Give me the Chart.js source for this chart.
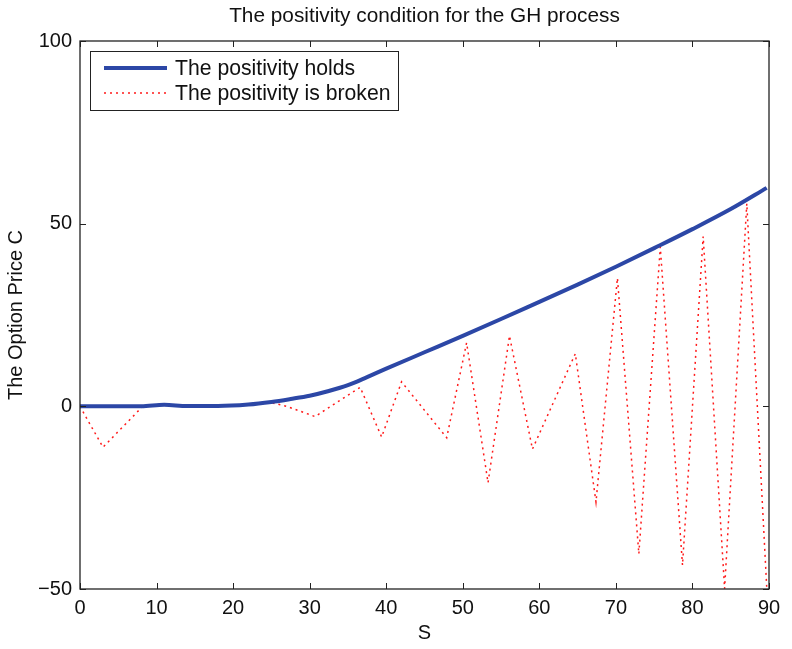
<!DOCTYPE html>
<html>
<head>
<meta charset="utf-8">
<script src="https://cdn.jsdelivr.net/npm/chart.js@4"></script>
<style>
  html, body { margin: 0; padding: 0; background: #fff; }
  #wrap { width: 792px; height: 649px; }
</style>
</head>
<body>
<div id="wrap"><canvas id="myChart" width="792" height="649"></canvas></div>
<script>
// values
const title = 'The positivity condition for the GH process'
const xLabel = 'S'
const yLabel = 'The Option Price C'
const seriesNames = ['The positivity holds', 'The positivity is broken']

const sHolds = [0, 5, 8, 11, 14, 18, 22, 25, 27.5, 30, 32.5, 35, 37.5, 40, 45, 50, 55, 60, 65, 70, 75, 80, 85, 89.7]
const cHolds = [0, 0, 0, 0.4, 0.1, 0.1, 0.5, 1.2, 2, 2.9, 4.2, 5.8, 8.0, 10.3, 14.8, 19.3, 23.9, 28.6, 33.3, 38.2, 43.3, 48.5, 54, 59.8]

const sBroken = [0, 3, 8.2, 11, 15, 20, 25, 27, 30.7, 36.6, 39.4, 42.0, 47.9, 50.5, 53.3, 56.1, 59.1, 64.7, 67.4, 70.2, 73.0, 75.8, 78.7, 81.4, 84.2, 87.1, 89.7]
const cBroken = [0, -11.2, 0, 0.4, 0, 0.2, 1, 0, -2.8, 5.2, -8.4, 6.7, -8.6, 17.4, -20.9, 19.3, -11.7, 14.4, -26.2, 35.1, -40.4, 43.6, -43.5, 46.5, -49.9, 55.5, -49.4]

const xTicks = [0, 10, 20, 30, 40, 50, 60, 70, 80, 90]
const yTicks = [-50, 0, 50, 100]

const blue = '#2c47a6'
const red = '#ff1a1a'
const font = '"Liberation Sans", Arial, sans-serif'

function toPoints(xs, ys) {
  return xs.map((x, i) => ({ x: x, y: ys[i] }))
}

// box, inward ticks on all sides, title and legend, MATLAB style
const matlabFrame = {
  id: 'matlabFrame',
  afterDatasetsDraw(chart) {
    const ctx = chart.ctx
    const a = chart.chartArea
    const xs = chart.scales.x
    const ys = chart.scales.y
    ctx.save()
    ctx.strokeStyle = '#222'
    ctx.lineWidth = 1
    ctx.beginPath()
    xTicks.forEach(t => {
      const px = Math.round(xs.getPixelForValue(t)) + 0.5
      ctx.moveTo(px, a.bottom); ctx.lineTo(px, a.bottom - 6)
      ctx.moveTo(px, a.top); ctx.lineTo(px, a.top + 6)
    })
    yTicks.forEach(t => {
      const py = Math.round(ys.getPixelForValue(t)) + 0.5
      ctx.moveTo(a.left, py); ctx.lineTo(a.left + 6, py)
      ctx.moveTo(a.right, py); ctx.lineTo(a.right - 6, py)
    })
    ctx.stroke()
    ctx.lineWidth = 1.3
    ctx.strokeRect(a.left, a.top, a.right - a.left, a.bottom - a.top)

    // title
    ctx.fillStyle = '#111'
    ctx.font = '20.8px ' + font
    ctx.textAlign = 'center'
    ctx.textBaseline = 'middle'
    ctx.fillText(title, (a.left + a.right) / 2, 16)

    // legend
    const lx = a.left + 10, ly = a.top + 10, lw = 308, lh = 59
    ctx.fillStyle = '#fff'
    ctx.fillRect(lx, ly, lw, lh)
    ctx.lineWidth = 1
    ctx.strokeStyle = '#222'
    ctx.strokeRect(lx + 0.5, ly + 0.5, lw, lh)
    chart.data.datasets.forEach((ds, i) => {
      const y = ly + 17 + i * 25
      ctx.beginPath()
      ctx.strokeStyle = ds.borderColor
      ctx.lineWidth = ds.borderWidth
      ctx.setLineDash(ds.borderDash || [])
      ctx.moveTo(lx + 14, y); ctx.lineTo(lx + 77, y)
      ctx.stroke()
      ctx.setLineDash([])
      ctx.fillStyle = '#111'
      ctx.font = '21.2px ' + font
      ctx.textAlign = 'left'
      ctx.fillText(ds.label, lx + 85, y + 1)
    })
    ctx.restore()
  }
}

const myChartRef = document.getElementById('myChart').getContext('2d')
new Chart(myChartRef, {
  type: 'line',
  data: {
    datasets: [
      {
        label: seriesNames[0],
        data: toPoints(sHolds, cHolds),
        borderColor: blue,
        borderWidth: 4,
        pointRadius: 0,
        cubicInterpolationMode: 'monotone'
      },
      {
        label: seriesNames[1],
        data: toPoints(sBroken, cBroken),
        borderColor: red,
        borderWidth: 1.5,
        borderDash: [2, 4],
        pointRadius: 0,
        tension: 0
      }
    ]
  },
  plugins: [matlabFrame],
  options: {
    responsive: false,
    animation: false,
    layout: { padding: { top: 41, right: 23, left: 0, bottom: 0 } },
    plugins: {
      legend: { display: false },
      title: { display: false },
      tooltip: { enabled: false }
    },
    scales: {
      x: {
        type: 'linear',
        min: 0,
        max: 90,
        afterBuildTicks: s => { s.ticks = xTicks.map(v => ({ value: v })) },
        afterFit: s => { s.height = 60 },
        grid: { display: false, drawTicks: false },
        border: { display: false },
        ticks: { color: '#111', font: { family: font, size: 20 }, padding: 7, maxRotation: 0 },
        title: { display: true, text: xLabel, color: '#111', font: { family: font, size: 20 }, padding: { top: 3 } }
      },
      y: {
        type: 'linear',
        min: -50,
        max: 100,
        afterBuildTicks: s => { s.ticks = yTicks.map(v => ({ value: v })) },
        afterFit: s => { s.width = 80 },
        grid: { display: false, drawTicks: false },
        border: { display: false },
        ticks: {
          color: '#111', font: { family: font, size: 20 }, padding: 8,
          callback: v => String(v).replace('-', '\u2212')
        },
        title: { display: true, text: yLabel, color: '#111', font: { family: font, size: 20 }, padding: { bottom: 0 } }
      }
    }
  }
})
</script>
</body>
</html>
